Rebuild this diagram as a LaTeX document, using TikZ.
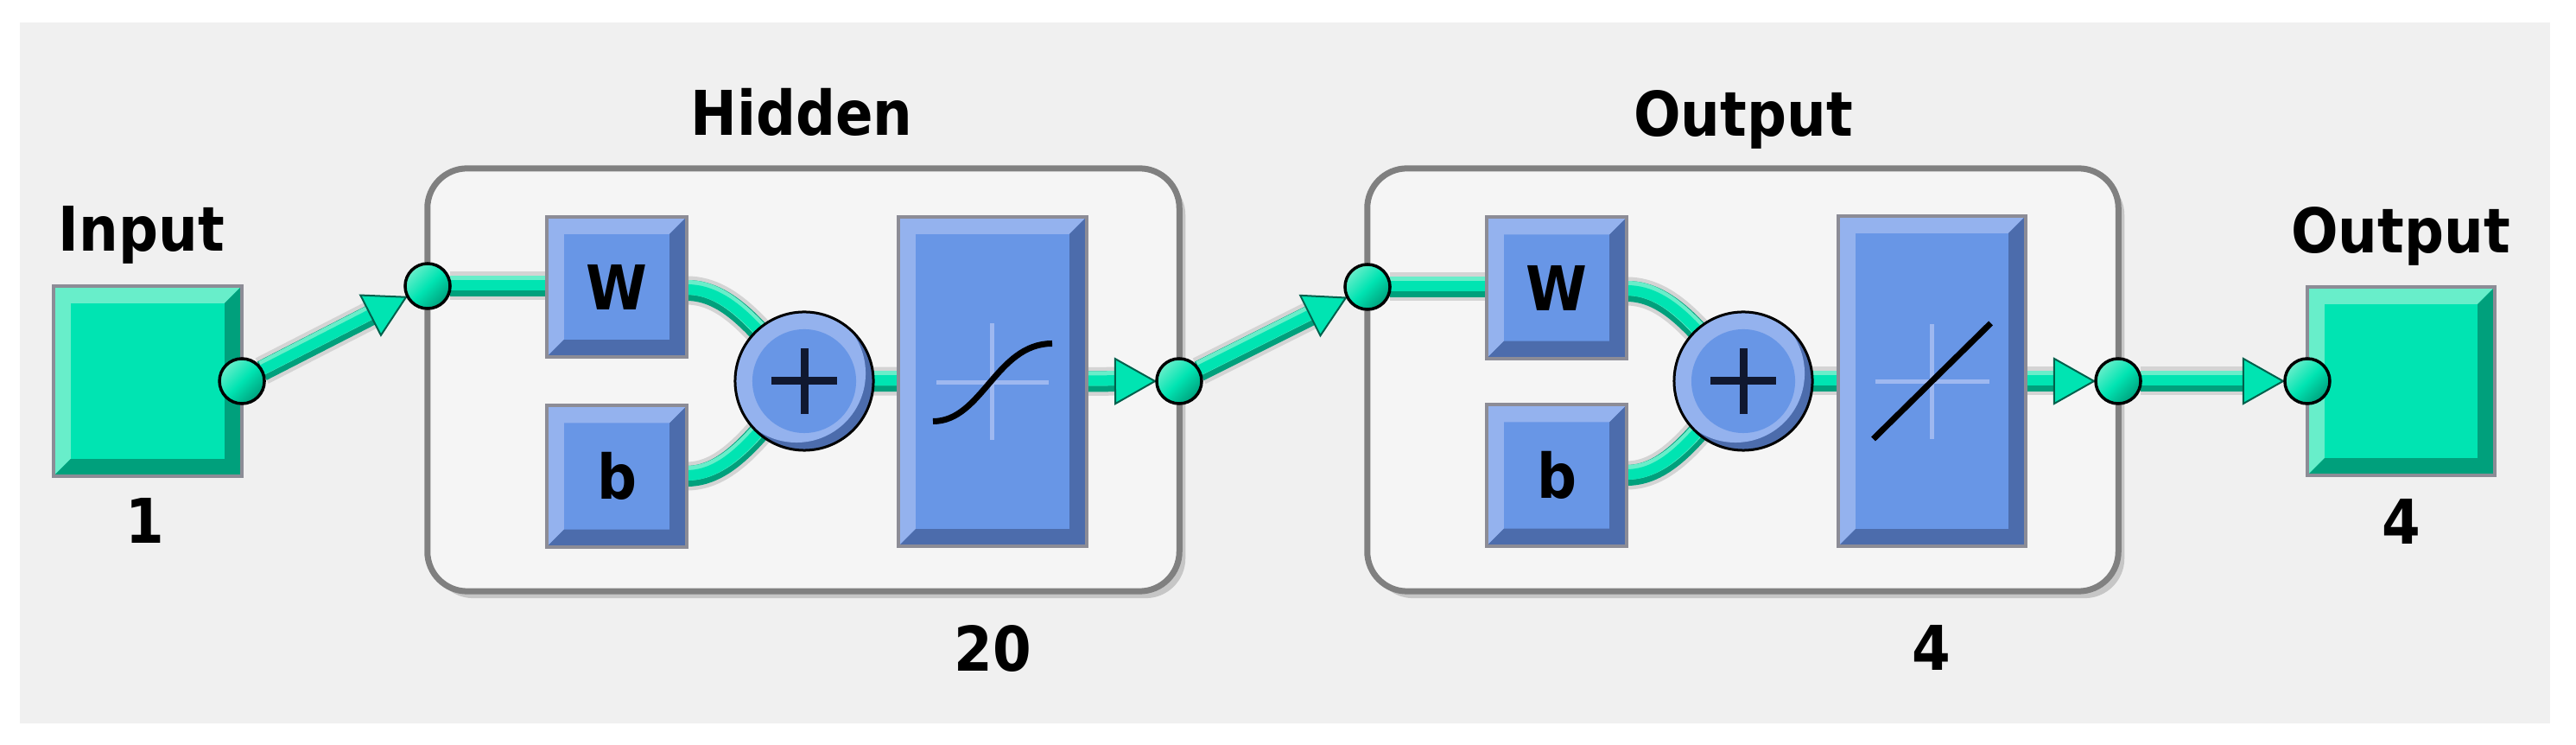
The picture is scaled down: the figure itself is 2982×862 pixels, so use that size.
\documentclass[tikz,border=0pt]{standalone}
\usepackage{fontspec}
\newfontfamily\lblfont{DejaVu Sans}[FakeStretch=0.9]
\usetikzlibrary{calc,shadows}
\definecolor{bgc}{RGB}{240,240,240}
\definecolor{panelc}{RGB}{245,245,245}
\definecolor{borderc}{RGB}{128,128,128}
\definecolor{shadowc}{RGB}{198,198,198}
\definecolor{haloc}{RGB}{212,212,212}
\definecolor{tealM}{RGB}{0,228,178}
\definecolor{tealL}{RGB}{104,238,202}
\definecolor{tealD}{RGB}{0,160,124}
\definecolor{tealE}{RGB}{0,96,76}
\definecolor{blueM}{RGB}{104,150,230}
\definecolor{blueL}{RGB}{148,178,238}
\definecolor{blueD}{RGB}{76,108,172}
\definecolor{boxedge}{RGB}{140,140,150}
\definecolor{axisc}{RGB}{158,184,240}
\definecolor{plusc}{RGB}{16,24,48}
\pgfdeclarelayer{back}
\pgfdeclarelayer{conn}
\pgfsetlayers{back,conn,main}
\tikzset{
  bevelbox/.style n args={3}{rectangle, inner sep=0pt, outer sep=0pt, fill=#1, draw=boxedge, line width=0.04cm,
    path picture={
      \fill[#2] (path picture bounding box.south west) -- (path picture bounding box.north west)
        -- (path picture bounding box.north east) -- ([shift={(-20,20)}]path picture bounding box.north east)
        -- ([shift={(20,20)}]path picture bounding box.north west) -- ([shift={(20,-20)}]path picture bounding box.south west) -- cycle;
      \fill[#3] (path picture bounding box.south west) -- (path picture bounding box.south east)
        -- (path picture bounding box.north east) -- ([shift={(-20,20)}]path picture bounding box.north east)
        -- ([shift={(-20,-20)}]path picture bounding box.south east) -- ([shift={(20,-20)}]path picture bounding box.south west) -- cycle;
    }},
  lbl/.style={font={\lblfont\bfseries\fontsize{20.3}{24}\selectfont}, inner sep=0pt, outer sep=0pt, text=black},
  sumc/.style={circle, inner sep=0pt, outer sep=0pt, minimum size=1.6cm, fill=blueD, draw=black, line width=0.03cm,
    path picture={
      \fill[blueL] ([shift={(-9,-9)}]path picture bounding box.center) circle (0.8cm);
      \fill[blueM] (path picture bounding box.center) circle (0.6cm);
      \draw[plusc, line width=0.09cm] ([xshift=-0.38cm]path picture bounding box.center) -- ([xshift=0.38cm]path picture bounding box.center)
        ([yshift=-0.38cm]path picture bounding box.center) -- ([yshift=0.38cm]path picture bounding box.center);
    }},
  dot/.style={circle, inner sep=0pt, outer sep=0pt, minimum size=0.52cm, draw=black, line width=0.035cm,
    top color=tealL, bottom color=tealD, middle color=tealM, shading angle=45},
  layer/.style={rectangle, rounded corners=0.46cm, fill=panelc, draw=borderc, line width=0.07cm, inner sep=0pt, outer sep=0pt,
    drop shadow={shadow xshift=0.07cm, shadow yshift=-0.08cm, fill=shadowc, opacity=1}},
  bandhalo/.style={draw=haloc, line width=0.33cm},
  banddark/.style={draw=tealD, line width=0.24cm},
  bandlight/.style={draw=tealL, line width=0.17cm, transform canvas={yshift=0.035cm}},
  bandmain/.style={draw=tealM, line width=0.12cm, transform canvas={yshift=0.01cm}},
  arrowhd/.style={fill=tealM, draw=tealE, line width=0.02cm, line join=miter},
  axisl/.style={draw=axisc, line width=0.05cm},
  curvel/.style={draw=black, line width=0.07cm},
}
\newcommand\allbands[1]{%
  \draw[#1] (inpdot) -- (ab1);
  \draw[#1] (hin) -- (hin -| W1.west);
  \draw[#1] ([yshift=-0.04cm]W1.east) .. controls +(55,0) and +(-45,-45) .. (sum1.center);
  \draw[#1] (b1.east) .. controls +(55,0) and +(-45,45) .. (sum1.center);
  \draw[#1] (sum1) -- (tf1);
  \draw[#1] (tf1.east) -- (ab2);
  \draw[#1] (hout) -- (ab3);
  \draw[#1] (oin) -- (oin -| W2.west);
  \draw[#1] ([yshift=-0.04cm]W2.east) .. controls +(55,0) and +(-45,-45) .. (sum2.center);
  \draw[#1] (b2.east) .. controls +(55,0) and +(-45,45) .. (sum2.center);
  \draw[#1] (sum2) -- (tf2);
  \draw[#1] (tf2.east) -- (ab4);
  \draw[#1] (oout) -- (ab5);
}
\begin{document}
\begin{tikzpicture}[x=0.01cm, y=-0.01cm]
\useasboundingbox (0,0) rectangle (2982,862);
\begin{pgfonlayer}{back}
  \fill[white] (0,0) rectangle (2982,862);
  \fill[bgc] (23,26) rectangle (2952,837);
  \node[layer, minimum width=8.70cm, minimum height=4.89cm] (hidbox) at (930,439.5) {};
  \node[layer, minimum width=8.69cm, minimum height=4.89cm] (outbox) at (2017.5,439.5) {};
\end{pgfonlayer}

% input and output terminals
\node[bevelbox={tealM}{tealL}{tealD}, minimum width=2.18cm, minimum height=2.2cm] (inp) at (171,441) {};
\node[bevelbox={tealM}{tealL}{tealD}, minimum width=2.17cm, minimum height=2.18cm] (outsq) at (2779.5,441) {};

% hidden layer
\node[bevelbox={blueM}{blueL}{blueD}, minimum width=1.62cm, minimum height=1.62cm, lbl] (W1) at (714,332) {W};
\node[bevelbox={blueM}{blueL}{blueD}, minimum width=1.62cm, minimum height=1.63cm, lbl] (b1) at (714,551) {b};
\node[sumc] (sum1) at (931,441) {};
\node[bevelbox={blueM}{blueL}{blueD}, minimum width=2.18cm, minimum height=3.81cm] (tf1) at (1149,441.5) {};

% output layer
\node[bevelbox={blueM}{blueL}{blueD}, minimum width=1.62cm, minimum height=1.63cm, lbl] (W2) at (1802,333) {W};
\node[bevelbox={blueM}{blueL}{blueD}, minimum width=1.62cm, minimum height=1.63cm, lbl] (b2) at (1802,550) {b};
\node[sumc] (sum2) at (2018,441) {};
\node[bevelbox={blueM}{blueL}{blueD}, minimum width=2.17cm, minimum height=3.82cm] (tf2) at (2236.5,441) {};

% junction dots
\node[dot] (inpdot) at (inp.east) {};
\node[dot] (hin) at (495,331) {};
\node[dot] (hout) at (1365,441) {};
\node[dot] (oin) at (1583,332) {};
\node[dot] (oout) at (2452,441) {};
\node[dot] (fin) at (outsq.west) {};

% transfer function glyphs
\draw[axisl] ($(tf1)+(-65,1)$) -- ($(tf1)+(65,1)$);
\draw[axisl] ($(tf1)+(-1,-67)$) -- ($(tf1)+(-1,68)$);
\draw[curvel] ($(tf1)+(-69,46)$) .. controls ($(tf1)+(-12,46)$) and ($(tf1)+(4,-44)$) .. ($(tf1)+(69,-44)$);
\draw[axisl] ($(tf2)+(-66,1)$) -- ($(tf2)+(66,1)$);
\draw[axisl] ($(tf2)+(0,-66)$) -- ($(tf2)+(0,67)$);
\draw[curvel] ($(tf2)+(-68,67)$) -- ($(tf2)+(68,-67)$);

% arrow geometry
\coordinate (at1) at ($(hin)!0.28cm!(inpdot)$);
\coordinate (ab1) at ($(hin)!0.74cm!(inpdot)$);
\coordinate (at2) at ($(hout)!0.28cm!(tf1)$);
\coordinate (ab2) at ($(hout)!0.74cm!(tf1)$);
\coordinate (at3) at ($(oin)!0.28cm!(hout)$);
\coordinate (ab3) at ($(oin)!0.74cm!(hout)$);
\coordinate (at4) at ($(oout)!0.28cm!(tf2)$);
\coordinate (ab4) at ($(oout)!0.74cm!(tf2)$);
\coordinate (at5) at ($(fin)!0.28cm!(oout)$);
\coordinate (ab5) at ($(fin)!0.74cm!(oout)$);

\begin{pgfonlayer}{conn}
  \allbands{bandhalo}
  \allbands{banddark}
  \allbands{bandlight}
  \allbands{bandmain}
  \foreach \i in {1,...,5}
    \filldraw[arrowhd] (at\i) -- ($(ab\i)!0.26cm!90:(at\i)$) -- ($(ab\i)!0.26cm!-90:(at\i)$) -- cycle;
\end{pgfonlayer}

% labels
\node[lbl, anchor=base] (lInput) at (164,291) {Input};
\node[lbl, anchor=base] (lOne) at (168,629) {1};
\node[lbl, anchor=base] (lHidden) at (928,157) {Hidden};
\node[lbl, anchor=base] (lOutT) at (2018,158) {Output};
\node[lbl, anchor=base] (lTwenty) at (1149,777) {20};
\node[lbl, anchor=base] (lFourA) at (2236,776) {4};
\node[lbl, anchor=base] (lOutR) at (2779,293) {Output};
\node[lbl, anchor=base] (lFourB) at (2780,630) {4};
\end{tikzpicture}
\end{document}
